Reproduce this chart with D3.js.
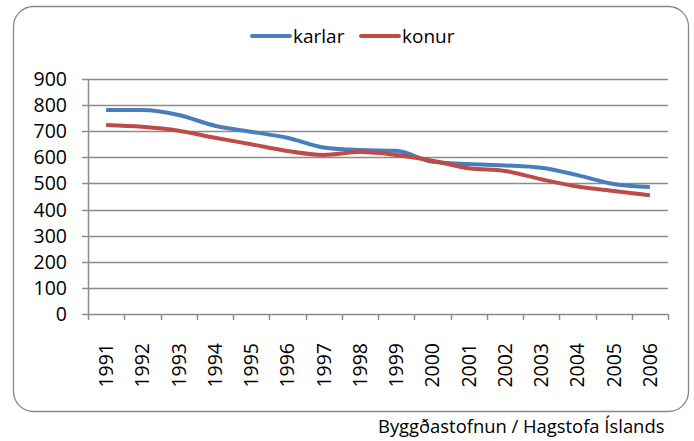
<!DOCTYPE html>
<html>
<head>
<meta charset="utf-8">
<script src="https://cdn.jsdelivr.net/npm/d3@7"></script>
<style>
  body { margin: 0; background: #fff; }
  text { font-family: "Open Sans", sans-serif; fill: #000; }
</style>
</head>
<body>
<script>
// gögn
const years = ["1991","1992","1993","1994","1995","1996","1997","1998",
               "1999","2000","2001","2002","2003","2004","2005","2006"];
const karlar = [781, 781, 762, 721, 698, 675, 638, 628, 625, 583, 574, 569, 560, 532, 498, 486];
const konur  = [724, 717, 702, 675, 650, 624, 609, 620, 609, 587, 558, 548, 516, 488, 471, 455];
const yTicks = [0, 100, 200, 300, 400, 500, 600, 700, 800, 900];
const seriesNames = ["karlar", "konur"];
const seriesColors = ["#4a7ebb", "#be4b48"];
const source = "Byggðastofnun / Hagstofa Íslands";

const W = 694, H = 441;
const margin = { top: 79, right: 26, bottom: 127, left: 88 };
const width = W - margin.left - margin.right,
    height = H - margin.top - margin.bottom;

const svg = d3.select("body").append("svg")
    .attr("width", W)
    .attr("height", H);

// ramminn
svg.append("rect")
    .attr("x", 13.5).attr("y", 6.5)
    .attr("width", 675).attr("height", 405)
    .attr("rx", 20).attr("ry", 20)
    .attr("fill", "none")
    .attr("stroke", "#868686")
    .attr("stroke-width", 1.3);

const g = svg.append("g")
    .attr("transform", "translate(" + margin.left + "," + margin.top + ")");

const x = d3.scaleBand().domain(years).range([0, width]);
const y = d3.scaleLinear().domain([0, 900]).range([height, 0]);

// gridlines
g.append("g")
    .selectAll("line")
    .data(yTicks)
    .join("line")
    .attr("x1", -6).attr("x2", width)
    .attr("y1", (d) => Math.round(y(d)) + 0.5)
    .attr("y2", (d) => Math.round(y(d)) + 0.5)
    .attr("stroke", "#8c8c8c")
    .attr("stroke-width", 1.5);

// y axis labels
g.append("g")
    .selectAll("text")
    .data(yTicks)
    .join("text")
    .attr("x", -21)
    .attr("y", (d) => y(d))
    .attr("dy", "0.36em")
    .attr("text-anchor", "end")
    .style("font-size", "19.5px")
    .text((d) => d);

// y axis line
g.append("line")
    .attr("x1", 0.5).attr("x2", 0.5)
    .attr("y1", 0).attr("y2", height)
    .attr("stroke", "#8c8c8c").attr("stroke-width", 1.5);

// x ticks
const xTickPos = years.map((d) => x(d)).concat([width]);
g.append("g")
    .selectAll("line")
    .data(xTickPos)
    .join("line")
    .attr("x1", (d) => Math.round(d) + 0.5)
    .attr("x2", (d) => Math.round(d) + 0.5)
    .attr("y1", height).attr("y2", height + 6)
    .attr("stroke", "#8c8c8c").attr("stroke-width", 1.5);

// x labels
g.append("g")
    .selectAll("text")
    .data(years)
    .join("text")
    .attr("transform", (d) => "translate(" + (x(d) + x.bandwidth() / 2) + "," + (height + 29) + ") rotate(-90)")
    .attr("dy", "0.36em")
    .attr("text-anchor", "end")
    .style("font-size", "19.5px")
    .text((d) => d);

// lines
const line = d3.line()
    .x((d, i) => x(years[i]) + x.bandwidth() / 2)
    .y((d) => y(d))
    .curve(d3.curveMonotoneX);

[karlar, konur].forEach((s, i) => {
    g.append("path")
        .datum(s)
        .attr("d", line)
        .attr("fill", "none")
        .attr("stroke", seriesColors[i])
        .attr("stroke-width", 4)
        .attr("stroke-linejoin", "round");
});

// legend
const legendX = [252, 361];
seriesNames.forEach((name, i) => {
    const lg = svg.append("g").attr("transform", "translate(" + legendX[i] + ",36)");
    lg.append("line")
        .attr("x1", 0).attr("x2", 38)
        .attr("stroke", seriesColors[i])
        .attr("stroke-width", 4)
        .attr("stroke-linecap", "round");
    lg.append("text")
        .attr("x", 41)
        .attr("dy", "0.35em")
        .style("font-size", "19px")
        .text(name);
});

// source
svg.append("text")
    .attr("x", 378)
    .attr("y", 433)
    .style("font-size", "18.4px")
    .text(source);
</script>
</body>
</html>
